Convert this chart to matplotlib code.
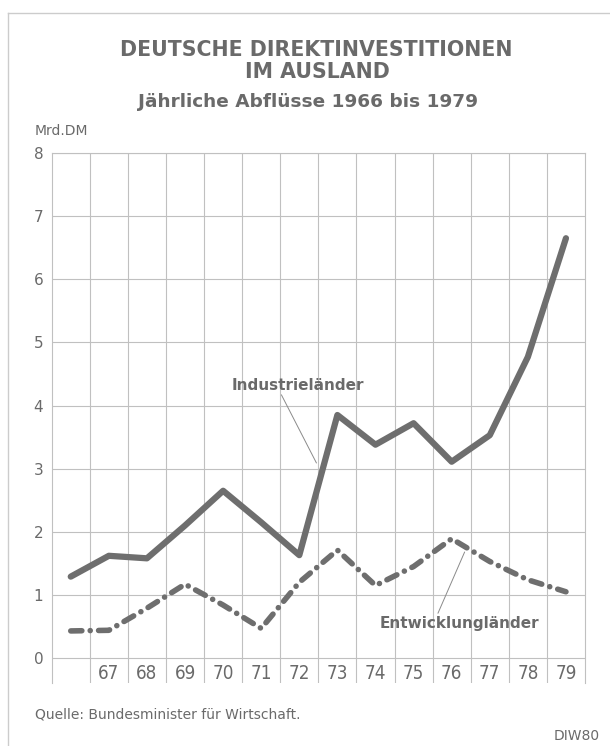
import matplotlib
matplotlib.use("Agg")
import matplotlib.pyplot as plt
from matplotlib.lines import Line2D

# annual outflows, Mrd. DM
years = list(range(1966, 1980))
industrie = [1.29, 1.62, 1.58, 2.10, 2.65, 2.15, 1.63, 3.85, 3.38, 3.72, 3.11, 3.53, 4.77, 6.65]
entwicklung = [0.43, 0.44, 0.79, 1.17, 0.84, 0.47, 1.20, 1.71, 1.15, 1.45, 1.89, 1.53, 1.24, 1.05]
year_labels = ["67", "68", "69", "70", "71", "72", "73", "74", "75", "76", "77", "78", "79"]

LINE = "#6e6e6e"
TEXT = "#6a6a6a"
GRID = "#c0c0c0"
LEAD = "#8a8a8a"
W, H = 610, 746

fig = plt.figure(figsize=(6.1, 7.46), dpi=100)
fig.patch.set_facecolor("white")

# outer frame (top and left only visible)
fig.add_artist(Line2D([8 / W, 1.0], [1 - 13 / H, 1 - 13 / H], color="#cccccc", lw=1.0))
fig.add_artist(Line2D([8 / W, 8 / W], [1 - 13 / H, 0.0], color="#cccccc", lw=1.0))

ax = fig.add_axes([51.7 / W, 1 - 682.7 / H, (585 - 51.7) / W, (682.7 - 153) / H])
ax.set_xlim(1965.5, 1979.5)
ax.set_ylim(-0.39, 8)

# grid
for v in range(0, 9):
    ax.axhline(v, color=GRID, lw=0.8, zorder=1)
for x in years[:-1]:
    ax.axvline(x + 0.5, color=GRID, lw=0.8, zorder=1)
for s in ("left", "right", "top"):
    ax.spines[s].set_color(GRID)
    ax.spines[s].set_linewidth(0.8)
ax.spines["bottom"].set_visible(False)

ax.set_xticks([])
ax.set_yticks(range(0, 9))
ax.set_yticklabels([str(v) for v in range(0, 9)])
ax.tick_params(axis="y", length=0, pad=6, labelsize=11, labelcolor=TEXT)

for x, lab in zip(years[1:], year_labels):
    ax.text(x, -0.24, lab, ha="center", va="center", fontsize=13.5,
            fontstretch="condensed", color=TEXT)

# series
ax.plot(years, industrie, color=LINE, lw=4.5, solid_joinstyle="round",
        solid_capstyle="round", zorder=3)
ax.plot(years, entwicklung, color=LINE, lw=4.0, ls=(0, (2.0, 1.5, 0.01, 1.5)),
        dash_capstyle="round", dash_joinstyle="round", zorder=3)

# labels with leader lines
ax.text(1971.95, 4.31, "Industrieländer", ha="center", va="center", fontsize=11,
        fontweight="bold", color=TEXT, zorder=4)
ax.annotate("", xy=(1972.45, 3.09), xytext=(1971.53, 4.17),
            arrowprops=dict(arrowstyle="-", color=LEAD, lw=0.7,
                            shrinkA=0, shrinkB=0), zorder=2)
ax.text(1976.21, 0.55, "Entwicklungländer", ha="center", va="center", fontsize=11,
        fontweight="bold", color=TEXT, zorder=4)
ax.annotate("", xy=(1976.34, 1.68), xytext=(1975.64, 0.71),
            arrowprops=dict(arrowstyle="-", color=LEAD, lw=0.7,
                            shrinkA=0, shrinkB=0), zorder=2)

# titles and notes
fig.text(316 / W, 1 - 50 / H, "DEUTSCHE DIREKTINVESTITIONEN", ha="center", va="center",
         fontsize=14.8, fontweight="bold", color=TEXT)
fig.text(317 / W, 1 - 72 / H, "IM AUSLAND", ha="center", va="center",
         fontsize=14.8, fontweight="bold", color=TEXT)
fig.text(308 / W, 1 - 102 / H, "Jährliche Abflüsse 1966 bis 1979", ha="center",
         va="center", fontsize=13.3, fontweight="bold", color=TEXT)
fig.text(35 / W, 1 - 131 / H, "Mrd.DM", ha="left", va="center", fontsize=10,
         color=TEXT)
fig.text(35 / W, 1 - 715 / H, "Quelle: Bundesminister für Wirtschaft.", ha="left",
         va="center", fontsize=10, color=TEXT)
fig.text(600 / W, 1 - 736 / H, "DIW80", ha="right", va="center", fontsize=10,
         color=TEXT)

fig.savefig("out.png", dpi=100)
